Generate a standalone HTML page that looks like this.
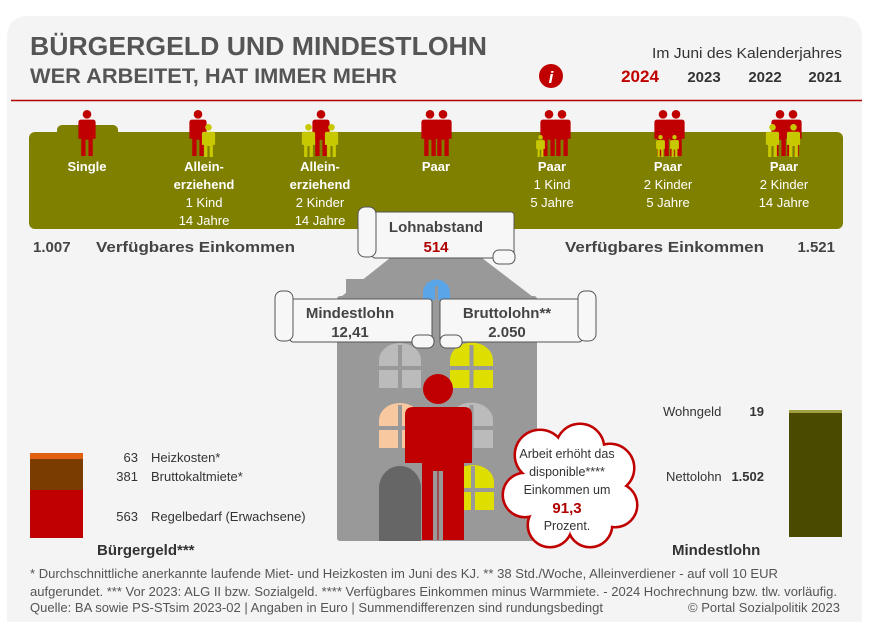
<!DOCTYPE html>
<html><head><meta charset="utf-8"><style>
html,body{margin:0;padding:0;background:#fff;}
svg{display:block;}
text{font-family:"Liberation Sans",Arial,sans-serif;}
.n{font-family:"Liberation Sans Narrow","Liberation Sans",sans-serif;}
</style></head><body>
<svg width="873" height="633" viewBox="0 0 873 633" xmlns="http://www.w3.org/2000/svg">
<defs>
<symbol id="ad" viewBox="0 0 18 48" overflow="visible">
<circle cx="9" cy="4.5" r="4.5"/>
<path d="M3 10 H15 Q18 10 18 13 V30 H15 V48 H10.5 V31 H7.5 V48 H3 V30 H0 V13 Q0 10 3 10Z"/>
</symbol>
<symbol id="ch" viewBox="0 0 12 30" overflow="visible">
<circle cx="6" cy="3" r="3"/>
<path d="M2 7 H10 Q12 7 12 9 V19 H10 V30 H7 V20 H5 V30 H2 V19 H0 V9 Q0 7 2 7Z"/>
</symbol>
</defs>
<path d="M7 622 V38 Q7 16 29 16 H840 Q862 16 862 38 V622 Z" fill="#f4f4f4"/>
<line x1="11" y1="100.5" x2="862" y2="100.5" stroke="#b00000" stroke-width="1.5"/>
<text x="30" y="55" font-size="26" font-weight="bold" fill="#555" textLength="457" lengthAdjust="spacingAndGlyphs">BÜRGERGELD UND MINDESTLOHN</text>
<text x="30" y="83" font-size="21" font-weight="bold" fill="#555" textLength="367" lengthAdjust="spacingAndGlyphs">WER ARBEITET, HAT IMMER MEHR</text>
<text x="652" y="58" font-size="15" fill="#333" textLength="190" lengthAdjust="spacingAndGlyphs">Im Juni des Kalenderjahres</text>
<ellipse cx="551" cy="76" rx="12" ry="12" fill="#c00000"/>
<text x="551" y="83" font-size="17" font-weight="bold" font-style="italic" fill="#fff" text-anchor="middle" font-family="Liberation Serif">i</text>
<text x="640" y="82" font-size="17" font-weight="bold" fill="#c00000" text-anchor="middle">2024</text>
<text x="704" y="82" font-size="15" font-weight="bold" fill="#333" text-anchor="middle">2023</text>
<text x="765" y="82" font-size="15" font-weight="bold" fill="#333" text-anchor="middle">2022</text>
<text x="825" y="82" font-size="15" font-weight="bold" fill="#333" text-anchor="middle">2021</text>

<rect x="29" y="132" width="814" height="97" rx="6" fill="#808000"/>
<rect x="57" y="125" width="61" height="12" rx="5" fill="#808000"/>

<g fill="#c00000">
<use href="#ad" x="78" y="110" width="18" height="46"/>
<use href="#ad" x="189" y="110" width="18" height="46"/>
<use href="#ad" x="312" y="110" width="18" height="46"/>
<use href="#ad" x="421" y="110" width="18" height="46"/>
<use href="#ad" x="434" y="110" width="18" height="46"/>
<use href="#ad" x="540" y="110" width="18" height="46"/>
<use href="#ad" x="553" y="110" width="18" height="46"/>
<use href="#ad" x="654" y="110" width="18" height="46"/>
<use href="#ad" x="667" y="110" width="18" height="46"/>
<use href="#ad" x="771" y="110" width="18" height="46"/>
<use href="#ad" x="784" y="110" width="18" height="46"/>
</g>
<g fill="#c8c800">
<use href="#ch" x="201" y="124" width="15" height="33"/>
<use href="#ch" x="301" y="124" width="15" height="33"/>
<use href="#ch" x="324" y="124" width="15" height="33"/>
<use href="#ch" x="535" y="135" width="11" height="22"/>
<use href="#ch" x="655" y="135" width="11" height="22"/>
<use href="#ch" x="669" y="135" width="11" height="22"/>
<use href="#ch" x="765" y="124" width="15" height="33"/>
<use href="#ch" x="786" y="124" width="15" height="33"/>
</g>

<g class="n" font-size="13" fill="#fff" text-anchor="middle">
<g font-weight="bold">
<text x="87" y="171">Single</text>
<text x="204" y="171">Allein-</text><text x="204" y="189">erziehend</text>
<text x="320" y="171">Allein-</text><text x="320" y="189">erziehend</text>
<text x="436" y="171">Paar</text>
<text x="552" y="171">Paar</text>
<text x="668" y="171">Paar</text>
<text x="784" y="171">Paar</text>
</g>
<text x="204" y="207">1 Kind</text><text x="204" y="225">14 Jahre</text>
<text x="320" y="207">2 Kinder</text><text x="320" y="225">14 Jahre</text>
<text x="552" y="189">1 Kind</text><text x="552" y="207">5 Jahre</text>
<text x="668" y="189">2 Kinder</text><text x="668" y="207">5 Jahre</text>
<text x="784" y="189">2 Kinder</text><text x="784" y="207">14 Jahre</text>
</g>

<g font-size="15" font-weight="bold" fill="#444">
<text x="33" y="252">1.007</text>
<text x="96" y="252" textLength="199" lengthAdjust="spacingAndGlyphs">Verfügbares Einkommen</text>
<text x="565" y="252" textLength="199" lengthAdjust="spacingAndGlyphs">Verfügbares Einkommen</text>
<text x="835" y="252" text-anchor="end">1.521</text>
</g>

<g fill="#999">
<rect x="346" y="279" width="30" height="20"/>
<polygon points="337,300 390,258 482,258 537,300"/>
<rect x="337" y="296" width="200" height="245" rx="3"/>
</g>
<path d="M423 300 V293 A13 13 0 0 1 450 293 V300Z" fill="#5aa5e8"/>
<line x1="436.5" y1="286" x2="436.5" y2="300" stroke="#999" stroke-width="3"/>
<g>
<path d="M379 388 V360 A21 17 0 0 1 421 360 V388Z" fill="#bbb"/>
<path d="M450 388 V360 A21 17 0 0 1 493 360 V388Z" fill="#dede00"/>
<path d="M379 448 V420 A21 17 0 0 1 421 420 V448Z" fill="#f8c9a0"/>
<path d="M450 448 V420 A21 17 0 0 1 493 420 V448Z" fill="#bbb"/>
<path d="M452 510 V482 A21 17 0 0 1 494 482 V510Z" fill="#dede00"/>
</g>
<g stroke="#999" stroke-width="4">
<line x1="400" y1="345" x2="400" y2="390"/><line x1="377" y1="368" x2="423" y2="368"/>
<line x1="471.5" y1="345" x2="471.5" y2="390"/><line x1="448" y1="368" x2="495" y2="368"/>
<line x1="400" y1="405" x2="400" y2="450"/><line x1="377" y1="428" x2="423" y2="428"/>
<line x1="471.5" y1="405" x2="471.5" y2="450"/><line x1="448" y1="428" x2="495" y2="428"/>
<line x1="473" y1="466" x2="473" y2="512"/><line x1="450" y1="490" x2="496" y2="490"/>
</g>
<path d="M379 541 V488 A21 22 0 0 1 421 488 V541Z" fill="#666"/>
<g fill="#c00000">
<circle cx="438" cy="389" r="15"/>
<path d="M413 407 H464 Q472 407 472 415 V463 H464 V540 H443 V471 H433 V540 H422 V463 H405 V415 Q405 407 413 407Z"/>
</g>
<line x1="438" y1="470" x2="438" y2="540" stroke="#a00000" stroke-width="1"/>

<g fill="#f7f7f7" stroke="#555" stroke-width="1">
<rect x="372" y="212" width="142" height="46" rx="3"/>
<rect x="358" y="207" width="18" height="50" rx="7"/>
<rect x="493" y="250" width="22" height="14" rx="6"/>
<rect x="290" y="299" width="142" height="43" rx="3"/>
<rect x="275" y="291" width="18" height="50" rx="7"/>
<rect x="412" y="335" width="22" height="13" rx="6"/>
<rect x="440" y="299" width="142" height="43" rx="3"/>
<rect x="578" y="291" width="18" height="50" rx="7"/>
<rect x="440" y="335" width="22" height="13" rx="6"/>
</g>
<g font-size="15" font-weight="bold" text-anchor="middle">
<text x="436" y="232" fill="#444">Lohnabstand</text>
<text x="436" y="252" fill="#b00000">514</text>
<text x="350" y="318" fill="#444">Mindestlohn</text>
<text x="350" y="337" fill="#444">12,41</text>
<text x="507" y="318" fill="#444">Bruttolohn**</text>
<text x="507" y="337" fill="#444">2.050</text>
</g>

<g stroke="#c00000" stroke-width="3" fill="#c00000">
<circle cx="540" cy="455" r="25"/><circle cx="580" cy="448" r="24"/><circle cx="610" cy="468" r="24"/>
<circle cx="615" cy="505" r="22"/><circle cx="590" cy="525" r="22"/><circle cx="550" cy="525" r="22"/>
<circle cx="525" cy="495" r="22"/><circle cx="568" cy="488" r="40"/>
</g>
<g fill="#fff">
<circle cx="540" cy="455" r="24"/><circle cx="580" cy="448" r="23"/><circle cx="610" cy="468" r="23"/>
<circle cx="615" cy="505" r="21"/><circle cx="590" cy="525" r="21"/><circle cx="550" cy="525" r="21"/>
<circle cx="525" cy="495" r="21"/><circle cx="568" cy="488" r="39"/>
</g>
<g font-size="12.5" fill="#333" text-anchor="middle">
<text x="567" y="458">Arbeit erhöht das</text>
<text x="567" y="476">disponible****</text>
<text x="567" y="494">Einkommen um</text>
<text x="567" y="513" font-size="15" font-weight="bold" fill="#b00000">91,3</text>
<text x="567" y="530">Prozent.</text>
</g>

<rect x="30" y="453" width="53" height="6" fill="#e06010"/>
<rect x="30" y="459" width="53" height="31" fill="#7a3c00"/>
<rect x="30" y="490" width="53" height="48" fill="#c00000"/>
<g class="n" font-size="13" fill="#333">
<text x="138" y="462" text-anchor="end">63</text><text x="151" y="462">Heizkosten*</text>
<text x="138" y="481" text-anchor="end">381</text><text x="151" y="481">Bruttokaltmiete*</text>
<text x="138" y="521" text-anchor="end">563</text><text x="151" y="521">Regelbedarf (Erwachsene)</text>
<text x="663" y="416">Wohngeld</text><text x="764" y="416" text-anchor="end" font-weight="bold">19</text>
<text x="666" y="481">Nettolohn</text><text x="764" y="481" text-anchor="end" font-weight="bold">1.502</text>
</g>
<rect x="789" y="410" width="53" height="3" fill="#a0a040"/>
<rect x="789" y="413" width="53" height="124" fill="#4a4a00"/>
<g font-size="15" font-weight="bold" fill="#333">
<text x="97" y="555">Bürgergeld***</text>
<text x="672" y="555">Mindestlohn</text>
</g>
<g class="n" font-size="12.5" fill="#555">
<text x="30" y="578" textLength="748" lengthAdjust="spacingAndGlyphs">* Durchschnittliche anerkannte laufende Miet- und Heizkosten im Juni des KJ. ** 38 Std./Woche, Alleinverdiener - auf voll 10 EUR</text>
<text x="30" y="596" textLength="807" lengthAdjust="spacingAndGlyphs">aufgerundet. *** Vor 2023: ALG II bzw. Sozialgeld. **** Verfügbares Einkommen minus Warmmiete. - 2024 Hochrechnung bzw. tlw. vorläufig.</text>
<text x="30" y="612" textLength="573" lengthAdjust="spacingAndGlyphs">Quelle: BA sowie PS-STsim 2023-02 | Angaben in Euro | Summendifferenzen sind rundungsbedingt</text>
<text x="688" y="612" textLength="152" lengthAdjust="spacingAndGlyphs">© Portal Sozialpolitik 2023</text>
</g>
</svg>
</body></html>
